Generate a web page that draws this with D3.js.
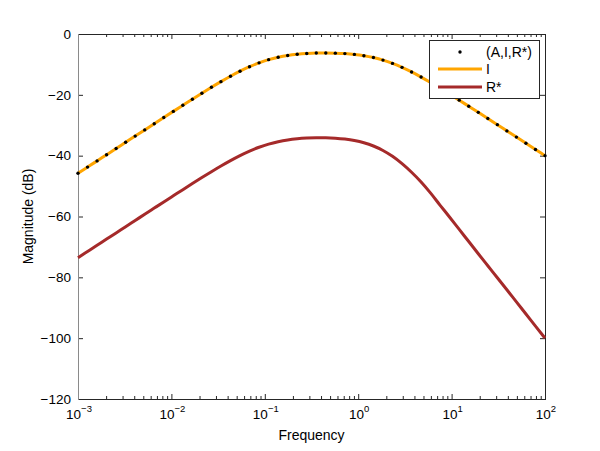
<!DOCTYPE html>
<html>
<head>
<meta charset="utf-8">
<script src="https://cdn.jsdelivr.net/npm/d3@7"></script>
<style>
  html, body { margin: 0; padding: 0; background: #fff; }
  svg text { font-family: "Liberation Sans", Arial, Helvetica, sans-serif; fill: #000; }
</style>
</head>
<body>
<svg id="chart" width="600" height="451"></svg>
<script>
// ---- data ----
const frequency = [0.001, 0.001265, 0.0016, 0.002024, 0.00256, 0.003237, 0.004095, 0.00518, 0.006551, 0.008286,
  0.01048, 0.01326, 0.01677, 0.02121, 0.02683, 0.03393, 0.04292, 0.05429, 0.06867, 0.08685,
  0.1099, 0.139, 0.1758, 0.2223, 0.2812, 0.3557, 0.4498, 0.569, 0.7197, 0.9103,
  1.151, 1.456, 1.842, 2.33, 2.947, 3.728, 4.715, 5.964, 7.543, 9.541,
  12.07, 15.26, 19.31, 24.42, 30.89, 39.07, 49.42, 62.51, 79.06, 100];

const seriesAIR = [-45.80, -43.76, -41.72, -39.68, -37.64, -35.60, -33.56, -31.53, -29.49, -27.46,
  -25.44, -23.43, -21.43, -19.46, -17.53, -15.66, -13.88, -12.23, -10.75, -9.48,
  -8.44, -7.64, -7.05, -6.66, -6.41, -6.27, -6.24, -6.29, -6.44, -6.71,
  -7.13, -7.75, -8.58, -9.66, -10.97, -12.48, -14.16, -15.95, -17.83, -19.77,
  -21.75, -23.75, -25.76, -27.78, -29.81, -31.85, -33.89, -35.92, -37.96, -40.00];

const seriesI = [-45.80, -43.76, -41.72, -39.68, -37.64, -35.60, -33.56, -31.53, -29.49, -27.46,
  -25.44, -23.43, -21.43, -19.46, -17.53, -15.66, -13.88, -12.23, -10.75, -9.48,
  -8.44, -7.64, -7.05, -6.66, -6.41, -6.27, -6.24, -6.29, -6.44, -6.71,
  -7.13, -7.75, -8.58, -9.66, -10.97, -12.48, -14.16, -15.95, -17.83, -19.77,
  -21.75, -23.75, -25.76, -27.78, -29.81, -31.85, -33.89, -35.92, -37.96, -40.00];

const seriesR = [-73.55, -71.51, -69.47, -67.43, -65.39, -63.35, -61.31, -59.27, -57.24, -55.21,
  -53.19, -51.17, -49.18, -47.21, -45.28, -43.41, -41.63, -39.98, -38.50, -37.23,
  -36.19, -35.40, -34.82, -34.44, -34.21, -34.11, -34.13, -34.26, -34.55, -35.02,
  -35.75, -36.82, -38.29, -40.22, -42.63, -45.46, -48.66, -52.33, -56.32, -60.24,
  -64.25, -68.23, -72.24, -76.19, -80.14, -84.10, -88.08, -92.05, -96.03, -100.00];

const legendLabels = ["(A,I,R*)", "I", "R*"];
const yTicks = [0, -20, -40, -60, -80, -100, -120];
const xDecadeExps = [-3, -2, -1, 0, 1, 2];
const xLabel = "Frequency";
const yLabel = "Magnitude (dB)";

(function () {
// ---- layout ----
const svg = d3.select("#chart");
const pL = 78, pR = 545, pT = 34, pB = 399;
const x = d3.scaleLog().domain([1e-3, 1e2]).range([pL, pR]);
const y = d3.scaleLinear().domain([-120, 0]).range([pB, pT]);
const axisColor = "#262626";
const orange = "#FFA500", brown = "#A52A2A";

// minor ticks
const minorTicks = [];
for (let e = -3; e < 2; e++) for (let m = 2; m <= 9; m++) minorTicks.push(m * Math.pow(10, e));
const majorTicks = xDecadeExps.map(e => Math.pow(10, e));

// axes via d3.axis (inward ticks)
const gBottom = svg.append("g").attr("transform", `translate(0,${pB})`)
  .call(d3.axisBottom(x).tickValues(majorTicks).tickSize(-5).tickFormat(""));
const gBottomMinor = svg.append("g").attr("transform", `translate(0,${pB})`)
  .call(d3.axisBottom(x).tickValues(minorTicks).tickSize(-3).tickFormat(""));
const gTop = svg.append("g").attr("transform", `translate(0,${pT})`)
  .call(d3.axisTop(x).tickValues(majorTicks).tickSize(-5).tickFormat(""));
const gTopMinor = svg.append("g").attr("transform", `translate(0,${pT})`)
  .call(d3.axisTop(x).tickValues(minorTicks).tickSize(-3).tickFormat(""));
const gLeft = svg.append("g").attr("transform", `translate(${pL},0)`)
  .call(d3.axisLeft(y).tickValues(yTicks).tickSize(-5).tickFormat(""));
const gRight = svg.append("g").attr("transform", `translate(${pR},0)`)
  .call(d3.axisRight(y).tickValues(yTicks).tickSize(-5).tickFormat(""));
[gBottom, gBottomMinor, gTop, gTopMinor, gLeft, gRight].forEach(g => {
  g.select(".domain").remove();
  g.selectAll(".tick line").attr("stroke", axisColor).attr("stroke-width", 1);
});

// box
svg.append("line").attr("x1", pL).attr("x2", pR).attr("y1", pB + 0.5).attr("y2", pB + 0.5).attr("stroke", axisColor);
svg.append("line").attr("x1", pL).attr("x2", pR).attr("y1", pT + 0.5).attr("y2", pT + 0.5).attr("stroke", axisColor);
svg.append("line").attr("x1", pL + 0.5).attr("x2", pL + 0.5).attr("y1", pT).attr("y2", pB + 1).attr("stroke", "#8a8a8a");
svg.append("line").attr("x1", pR + 0.5).attr("x2", pR + 0.5).attr("y1", pT).attr("y2", pB + 1).attr("stroke", axisColor);

// y tick labels
svg.append("g").selectAll("text").data(yTicks).join("text")
  .attr("x", pL - 7).attr("y", d => y(d)).attr("dy", "0.35em")
  .attr("text-anchor", "end").attr("font-size", 13.5)
  .text(d => d === 0 ? "0" : "\u2212" + Math.abs(d));

// x tick labels 10^n
const xl = svg.append("g").selectAll("text").data(xDecadeExps).join("text")
  .attr("x", d => x(Math.pow(10, d)) + 1).attr("y", pB + 20)
  .attr("text-anchor", "middle").attr("font-size", 13.5);
xl.append("tspan").text("10");
xl.append("tspan").attr("dy", -7).attr("font-size", 9.5)
  .text(d => (d < 0 ? "\u2212" : "") + Math.abs(d));

// axis titles
svg.append("text").attr("x", (pL + pR) / 2).attr("y", 440)
  .attr("text-anchor", "middle").attr("font-size", 14).text(xLabel);
svg.append("text").attr("transform", `translate(33,${(pT + pB) / 2}) rotate(-90)`)
  .attr("text-anchor", "middle").attr("font-size", 14).text(yLabel);

// curves
const line = (vals) => d3.line().x((d, i) => x(frequency[i])).y(d => y(d)).curve(d3.curveMonotoneX)(vals);
svg.append("path").attr("d", line(seriesI)).attr("fill", "none").attr("stroke", orange).attr("stroke-width", 3);
svg.append("path").attr("d", line(seriesR)).attr("fill", "none").attr("stroke", brown).attr("stroke-width", 3);
svg.append("g").selectAll("circle").data(seriesAIR).join("circle")
  .attr("cx", (d, i) => x(frequency[i])).attr("cy", d => y(d)).attr("r", 1.7).attr("fill", "#000");

// legend
const lg = svg.append("g");
lg.append("rect").attr("x", 429.5).attr("y", 40.5).attr("width", 110).attr("height", 58)
  .attr("fill", "#fff").attr("stroke", axisColor).attr("stroke-width", 1);
const rowsY = [52, 69, 87];
lg.append("circle").attr("cx", 460).attr("cy", rowsY[0]).attr("r", 1.7).attr("fill", "#000");
lg.append("line").attr("x1", 438).attr("x2", 482).attr("y1", rowsY[1]).attr("y2", rowsY[1]).attr("stroke", orange).attr("stroke-width", 3);
lg.append("line").attr("x1", 438).attr("x2", 482).attr("y1", rowsY[2]).attr("y2", rowsY[2]).attr("stroke", brown).attr("stroke-width", 3);
lg.selectAll("text.lbl").data(legendLabels).join("text").attr("class", "lbl")
  .attr("x", 486).attr("y", (d, i) => rowsY[i]).attr("dy", "0.35em").attr("font-size", 14).text(d => d);
})();
</script>
</body>
</html>
